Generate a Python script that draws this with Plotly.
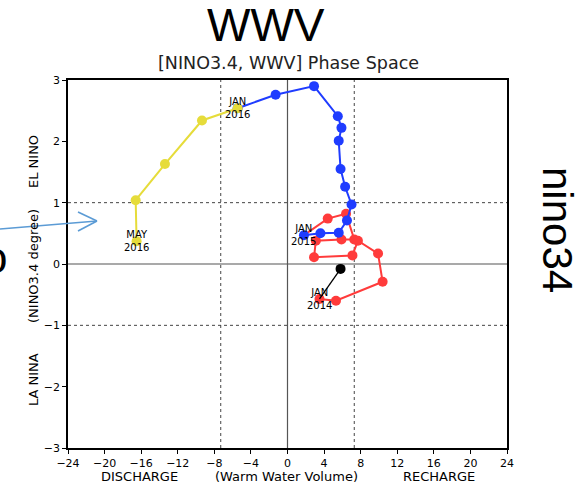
import plotly.graph_objects as go

# ---- data ----
black_x = [5.8, 3.5]
black_y = [-0.08, -0.57]

red_x = [3.5, 5.3, 10.4, 9.9, 7.7, 7.1, 2.9, 3.1, 5.9, 7.3, 6.4, 4.4]
red_y = [-0.57, -0.60, -0.29, 0.17, 0.38, 0.14, 0.11, 0.38, 0.40, 0.40, 0.82, 0.74]

blue_x = [1.8, 3.6, 5.6, 6.5, 7.0, 6.3, 5.8, 5.6, 5.9, 5.5, 2.9, -1.3, -5.45]
blue_y = [0.47, 0.50, 0.51, 0.71, 0.97, 1.26, 1.55, 2.01, 2.22, 2.41, 2.90, 2.76, 2.54]

yellow_x = [-5.45, -9.35, -13.4, -16.6, -16.5]
yellow_y = [2.54, 2.34, 1.63, 1.04, 0.37]

x_ticks = [-24, -20, -16, -12, -8, -4, 0, 4, 8, 12, 16, 20, 24]
y_ticks = [-3, -2, -1, 0, 1, 2, 3]
ref_x = [-7.3, 7.3]
ref_y = [-1, 1]

labels = [("JAN<br>2014", red_x[0], red_y[0]),
          ("JAN<br>2015", blue_x[0], blue_y[0]),
          ("JAN<br>2016", yellow_x[0], yellow_y[0]),
          ("MAY<br>2016", yellow_x[-1], yellow_y[-1])]

W, H = 587, 487
L, T = 68, 80
PW, PH = 439, 368
R, B = W - L - PW, H - T - PH


def px(x):
    return (x - L) / PW


def py(y):
    return (H - B - y) / PH


fig = go.Figure()

fig.add_trace(go.Scatter(x=red_x + [blue_x[0]], y=red_y + [blue_y[0]], mode="lines",
                         line=dict(color="#ff3b3b", width=2), hoverinfo="skip"))
fig.add_trace(go.Scatter(x=red_x, y=red_y, mode="markers",
                         marker=dict(color="#ff3b3b", size=10), hoverinfo="skip"))
fig.add_trace(go.Scatter(x=black_x, y=black_y, mode="lines",
                         line=dict(color="black", width=1.3), hoverinfo="skip"))
fig.add_trace(go.Scatter(x=black_x[:1], y=black_y[:1], mode="markers",
                         marker=dict(color="black", size=10), hoverinfo="skip"))
fig.add_trace(go.Scatter(x=blue_x, y=blue_y, mode="lines+markers",
                         line=dict(color="#1f3cff", width=2),
                         marker=dict(color="#1f3cff", size=10), hoverinfo="skip"))
fig.add_trace(go.Scatter(x=yellow_x, y=yellow_y, mode="lines+markers",
                         line=dict(color="#e6dc3a", width=2),
                         marker=dict(color="#e6dc3a", size=10), hoverinfo="skip"))

shapes = []
for v in ref_x:
    shapes.append(dict(type="line", xref="x", yref="paper", x0=v, x1=v, y0=0, y1=1,
                       line=dict(color="#444", width=1, dash="dot"), layer="below"))
for v in ref_y:
    shapes.append(dict(type="line", xref="paper", yref="y", x0=0, x1=1, y0=v, y1=v,
                       line=dict(color="#444", width=1, dash="dot"), layer="below"))
shapes.append(dict(type="line", xref="x", yref="paper", x0=0, x1=0, y0=0, y1=1,
                   line=dict(color="#555", width=1.2), layer="below"))
shapes.append(dict(type="line", xref="paper", yref="y", x0=0, x1=1, y0=0, y1=0,
                   line=dict(color="#555", width=1.2), layer="below"))
arrow_c = "#5b9bd5"
for (a, b) in [((0, 229), (97, 221)), ((78, 212), (97, 221)), ((78, 231), (97, 221))]:
    shapes.append(dict(type="line", xref="paper", yref="paper", x0=px(a[0]), y0=py(a[1]),
                       x1=px(b[0]), y1=py(b[1]), line=dict(color=arrow_c, width=1.6)))


def add_ann(text, x, y, font, angle=0, xanchor="center"):
    ann.append(dict(text=text, x=px(x), y=py(y), xref="paper", yref="paper",
                    xanchor=xanchor, yanchor="middle", showarrow=False,
                    textangle=angle, font=font))


ann = []
for t, x, y in labels:
    ann.append(dict(text=t, x=x, y=y, xref="x", yref="y", showarrow=False,
                    xanchor="center", yanchor="middle",
                    font=dict(family="DejaVu Sans", size=10, color="black")))

txt_font = dict(family="DejaVu Sans", size=13, color="black")
for t, xp in [("DISCHARGE", 139), ("(Warm Water Volume)", 286), ("RECHARGE", 439)]:
    add_ann(t, xp, 476, txt_font)
for t, yp in [("EL NINO", 162), ("(NINO3.4 degree)", 266), ("LA NINA", 380)]:
    add_ann(t, 33, yp, txt_font, angle=-90)

add_ann("WWV", 266, 25, dict(family="Liberation Sans", size=46, color="black"))
add_ann("[NINO3.4, WWV] Phase Space", 288, 63, dict(family="DejaVu Sans", size=17.5, color="#222"))
add_ann("nino34", 558, 230, dict(family="Liberation Sans", size=42, color="black"), angle=90)
add_ann("o", 9, 257, dict(family="Liberation Sans", size=44, color="black"), xanchor="right")

fig.update_layout(
    width=W, height=H,
    margin=dict(l=L, r=R, t=T, b=B),
    paper_bgcolor="white", plot_bgcolor="white",
    showlegend=False,
    shapes=shapes, annotations=ann,
    xaxis=dict(range=[-24, 24], tickvals=x_ticks, showgrid=False, zeroline=False,
               showline=True, linecolor="black", linewidth=1.5, mirror=True,
               ticks="outside", ticklen=4, tickcolor="black",
               tickfont=dict(family="DejaVu Sans", size=11, color="black")),
    yaxis=dict(range=[-3, 3], tickvals=y_ticks, showgrid=False, zeroline=False,
               showline=True, linecolor="black", linewidth=1.5, mirror=True,
               ticks="outside", ticklen=4, tickcolor="black",
               tickfont=dict(family="DejaVu Sans", size=11, color="black")),
)

fig.write_html("out.html", config={"displayModeBar": False},
               post_script="document.body.style.margin='0';document.body.style.overflow='hidden';")
